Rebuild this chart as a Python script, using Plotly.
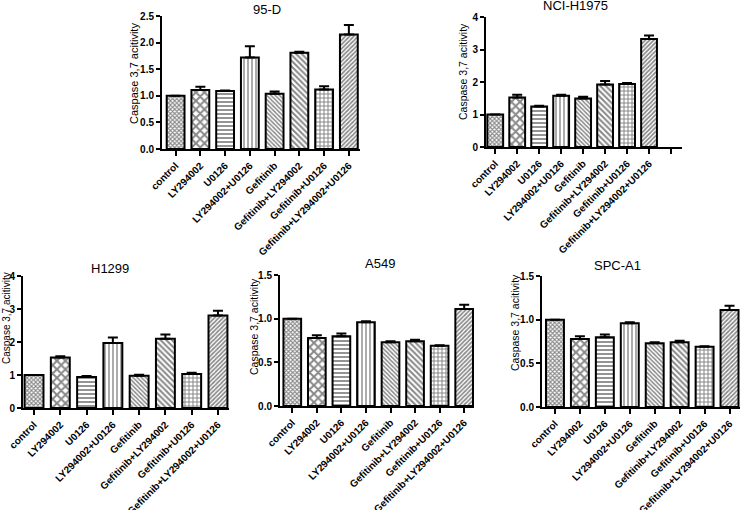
import plotly.graph_objects as go

categories = ["control", "LY294002", "U0126", "LY294002+U0126", "Gefitinib",
              "Gefitinib+LY294002", "Gefitinib+U0126", "Gefitinib+LY294002+U0126"]

panel_titles = ["95-D", "NCI-H1975", "H1299", "A549", "SPC-A1"]
y_title = "Caspase 3,7 acitivity"

vals_95d = [1.0, 1.11, 1.09, 1.72, 1.04, 1.81, 1.12, 2.15]
err_95d = [0.0, 0.06, 0.01, 0.21, 0.04, 0.02, 0.06, 0.18]

vals_h1975 = [1.0, 1.52, 1.25, 1.58, 1.49, 1.92, 1.94, 3.32]
err_h1975 = [0.0, 0.09, 0.02, 0.03, 0.06, 0.11, 0.03, 0.11]

vals_h1299 = [1.0, 1.53, 0.94, 1.97, 0.98, 2.1, 1.03, 2.8]
err_h1299 = [0.0, 0.04, 0.03, 0.17, 0.03, 0.13, 0.04, 0.15]

vals_a549 = [1.0, 0.78, 0.80, 0.96, 0.73, 0.74, 0.69, 1.11]
err_a549 = [0.0, 0.03, 0.03, 0.01, 0.01, 0.02, 0.005, 0.05]

vals_spca1 = [1.0, 0.78, 0.80, 0.96, 0.73, 0.74, 0.69, 1.11]
err_spca1 = [0.0, 0.03, 0.03, 0.01, 0.01, 0.02, 0.005, 0.05]

y_max = [2.5, 4, 4, 1.5, 1.5]
y_dtick = [0.5, 1, 1, 0.5, 0.5]

shapes = ["x", "x", "-", "|", "\\", "\\", "+", "/"]
psize = [3, 6, 4, 4, 3, 4, 4, 3]
psolid = [0.6, 0.55, 0.45, 0.35, 0.5, 0.5, 0.45, 0.55]

W, H = 741, 510
# pixel boxes: (left, right, top, bottom), x-range
boxes = [
    (162, 360, 16, 149, [-0.55, 7.45], categories),
    (486, 682, 17, 147, [-0.42, 8.5], categories + [" "]),
    (23, 229, 276, 408, [-0.42, 7.42], categories),
    (280, 474, 275, 406, [-0.5, 7.4], categories),
    (542, 740, 276, 407, [-0.52, 7.42], categories),
]
# panel title centres and y-title centres (pixels)
title_pos = [(267, 9), (575, 6), (110, 268), (380, 263), (617, 265)]
ytitle_pos = [(134, 74, 11), (463, 72, 10.5), (6, 318, 10), (254, 327, 10.5), (515, 323, 10.5)]

data = [(vals_95d, err_95d), (vals_h1975, err_h1975), (vals_h1299, err_h1299),
        (vals_a549, err_a549), (vals_spca1, err_spca1)]

fig = go.Figure()
font = "Liberation Sans, Arial, sans-serif"
layout = dict(width=W, height=H, margin=dict(l=0, r=0, t=0, b=0),
              paper_bgcolor="white", plot_bgcolor="white", showlegend=False,
              font=dict(family=font, color="black"))
annotations = []
for i, ((l, r, t, b, xr, cats), (v, e)) in enumerate(zip(boxes, data)):
    n = "" if i == 0 else str(i + 1)
    fig.add_trace(go.Bar(
        x=categories, y=v, xaxis="x" + n, yaxis="y" + n, width=0.72,
        marker=dict(color="white", line=dict(color="black", width=2),
                    pattern=dict(shape=shapes, size=psize, solidity=psolid,
                                 fgcolor="#111", bgcolor="white", fillmode="overlay")),
        error_y=dict(type="data", symmetric=False, array=e, arrayminus=[0] * len(e),
                     color="black", thickness=2, width=5),
        cliponaxis=False, hoverinfo="skip",
    ))
    layout["xaxis" + n] = dict(
        domain=[l / W, r / W], anchor="y" + n, range=xr, type="category",
        categoryorder="array", categoryarray=cats, automargin=False,
        showline=True, linecolor="black", linewidth=2, ticks="outside",
        ticklen=5, tickwidth=1.5, tickcolor="black", tickangle=-45,
        tickfont=dict(size=10, weight="bold", family=font), showgrid=False, zeroline=False)
    layout["yaxis" + n] = dict(
        domain=[1 - b / H, 1 - t / H], anchor="x" + n, range=[0, y_max[i]],
        dtick=y_dtick[i], tickformat=".1f" if y_dtick[i] < 1 else "d", automargin=False,
        showline=True, linecolor="black", linewidth=2, ticks="outside",
        ticklen=4, tickwidth=1.5, tickcolor="black",
        tickfont=dict(size=10, weight="bold", family=font), showgrid=False, zeroline=False)
    tx, ty = title_pos[i]
    annotations.append(dict(text=panel_titles[i], xref="paper", yref="paper",
                            x=tx / W, y=1 - ty / H, showarrow=False,
                            font=dict(size=13, family=font),
                            xanchor="center", yanchor="middle"))
    yx, yy, ys = ytitle_pos[i]
    annotations.append(dict(text=y_title, xref="paper", yref="paper",
                            x=yx / W, y=1 - yy / H, showarrow=False, textangle=-90,
                            font=dict(size=ys, family=font),
                            xanchor="center", yanchor="middle"))
layout["annotations"] = annotations
fig.update_layout(**layout)
fig.write_html("out.html", config={"displayModeBar": False},
               post_script="document.body.style.margin='0';document.body.style.overflow='hidden';")
